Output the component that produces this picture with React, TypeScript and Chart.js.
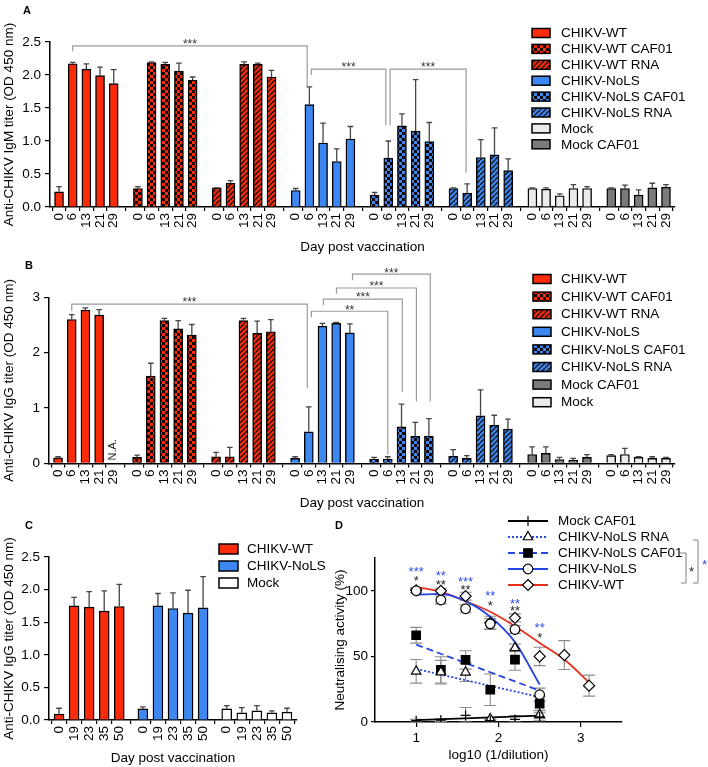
import React, { useEffect, useRef } from "react";
import { Chart, registerables } from "chart.js";

Chart.register(...registerables);

const FONT = "'Liberation Sans', Arial, Helvetica, sans-serif";

// ================= Panel A : anti-CHIKV IgM =================
const A_DAYS = ["0", "6", "13", "21", "29"];
const A_GROUPS = ["CHIKV-WT", "CHIKV-WT CAF01", "CHIKV-WT RNA", "CHIKV-NoLS", "CHIKV-NoLS CAF01", "CHIKV-NoLS RNA", "Mock", "Mock CAF01"];
const A_WT = [0.23, 2.17, 2.09, 1.99, 1.87];
const A_WT_ERR = [0.31, 2.19, 2.17, 2.12, 2.08];
const A_WT_CAF = [0.28, 2.19, 2.16, 2.06, 1.92];
const A_WT_CAF_ERR = [0.31, 2.2, 2.19, 2.18, 1.97];
const A_WT_RNA = [0.29, 0.36, 2.16, 2.16, 1.97];
const A_WT_RNA_ERR = [0.29, 0.4, 2.2, 2.18, 2.07];
const A_NOLS = [0.25, 1.55, 0.97, 0.69, 1.03];
const A_NOLS_ERR = [0.28, 1.82, 1.27, 0.88, 1.22];
const A_NOLS_CAF = [0.18, 0.74, 1.23, 1.15, 0.99];
const A_NOLS_CAF_ERR = [0.22, 1.0, 1.41, 1.93, 1.28];
const A_NOLS_RNA = [0.28, 0.21, 0.75, 0.79, 0.55];
const A_NOLS_RNA_ERR = [0.29, 0.35, 1.02, 1.2, 0.73];
const A_MOCK = [0.28, 0.27, 0.17, 0.28, 0.28];
const A_MOCK_ERR = [0.29, 0.29, 0.2, 0.34, 0.31];
const A_MOCK_CAF = [0.28, 0.28, 0.18, 0.29, 0.3];
const A_MOCK_CAF_ERR = [0.29, 0.33, 0.26, 0.36, 0.34];
const A_Y_TICKS = [0, 0.5, 1.0, 1.5, 2.0, 2.5];

// ================= Panel B : anti-CHIKV IgG =================
const B_DAYS = ["0", "6", "13", "21", "29"];
const B_GROUPS = ["CHIKV-WT", "CHIKV-WT CAF01", "CHIKV-WT RNA", "CHIKV-NoLS", "CHIKV-NoLS CAF01", "CHIKV-NoLS RNA", "Mock CAF01", "Mock"];
const B_WT = [0.1, 2.6, 2.77, 2.68, null];
const B_WT_ERR = [0.12, 2.69, 2.81, 2.78, null];
const B_WT_CAF = [0.11, 1.58, 2.58, 2.43, 2.32];
const B_WT_CAF_ERR = [0.15, 1.81, 2.62, 2.58, 2.51];
const B_WT_RNA = [0.12, 0.12, 2.58, 2.35, 2.38];
const B_WT_RNA_ERR = [0.2, 0.29, 2.62, 2.57, 2.6];
const B_NOLS = [0.09, 0.57, 2.48, 2.53, 2.36];
const B_NOLS_ERR = [0.12, 1.02, 2.53, 2.55, 2.52];
const B_NOLS_CAF = [0.08, 0.08, 0.66, 0.49, 0.49];
const B_NOLS_CAF_ERR = [0.11, 0.12, 1.07, 0.74, 0.81];
const B_NOLS_RNA = [0.13, 0.09, 0.86, 0.69, 0.62];
const B_NOLS_RNA_ERR = [0.25, 0.14, 1.33, 0.87, 0.8];
const B_MOCK_CAF = [0.16, 0.18, 0.07, 0.06, 0.11];
const B_MOCK_CAF_ERR = [0.3, 0.3, 0.11, 0.09, 0.16];
const B_MOCK = [0.14, 0.16, 0.11, 0.09, 0.09];
const B_MOCK_ERR = [0.16, 0.27, 0.12, 0.12, 0.11];
const B_Y_TICKS = [0, 1, 2, 3];

// ================= Panel C : anti-CHIKV IgG (long term) =================
const C_DAYS = ["0", "19", "23", "35", "50"];
const C_GROUPS = ["CHIKV-WT", "CHIKV-NoLS", "Mock"];
const C_WT = [0.09, 1.75, 1.73, 1.67, 1.74];
const C_WT_ERR = [0.18, 1.88, 1.97, 1.98, 2.08];
const C_NOLS = [0.17, 1.75, 1.71, 1.64, 1.72];
const C_NOLS_ERR = [0.2, 1.94, 1.95, 1.99, 2.2];
const C_MOCK = [0.17, 0.11, 0.14, 0.11, 0.12];
const C_MOCK_ERR = [0.22, 0.19, 0.22, 0.14, 0.18];

// ================= Panel D : neutralisation =================
const D_X = [1.0, 1.3, 1.6, 1.9, 2.2, 2.5];
const D_X_WT = [1.0, 1.3, 1.6, 1.9, 2.2, 2.5, 2.8, 3.1];
const D_MOCK_CAF = [1, 1.5, 5, 1, 2, 4];
const D_MOCK_CAF_SEM = [1, 1, 6, 1, 3, 3];
const D_NOLS_RNA = [38.6, 38, 37.9, 2.3, 56.5, 5.6];
const D_NOLS_RNA_SEM = [9, 9, 7, 1, 3, 3];
const D_NOLS_CAF = [66.1, 39.7, 47.3, 24.6, 47.5, 14];
const D_NOLS_CAF_SEM = [6, 10, 7, 12, 8, 5];
const D_NOLS = [100, 93, 86.3, 74.8, 70.5, 20.8];
const D_NOLS_SEM = [1.5, 3, 3, 4, 3, 5];
const D_WT = [100.4, 100, 95.9, 75.6, 79.4, 50, 51, 27.7];
const D_WT_SEM = [2, 2, 3, 5, 3, 7, 11, 8];
const D_X_TICKS = [1, 2, 3];
const D_Y_TICKS = [0, 50, 100];
// fitted curves
const FIT_MOCK_CAF_X = [1.0, 2.5];
const FIT_MOCK_CAF_Y = [1.5, 4.8];
const FIT_NOLS_RNA_X = [1.0, 2.5];
const FIT_NOLS_RNA_Y = [40.4, 19];
const FIT_NOLS_CAF_X = [1.0, 2.5];
const FIT_NOLS_CAF_Y = [59, 23.9];
const FIT_NOLS_X = [1.0, 1.3, 1.6, 1.9, 2.2, 2.5];
const FIT_NOLS_Y = [96.9, 97.7, 92.1, 80.2, 60.9, 28.5];
const FIT_WT_X = [1.0, 1.3, 1.6, 1.9, 2.2, 2.5, 2.8, 3.1];
const FIT_WT_Y = [103, 99.2, 92.1, 84, 73, 60.3, 47.6, 30.2];
// significance marks above each dilution
const D_STAR_X = [1.0, 1.3, 1.6, 1.9, 2.2, 2.5];
const D_STARS_BLUE = ["***", "**", "***", "**", "**", "**"];
const D_STARS_BLUE_Y = [117, 114, 109.4, 98.7, 92.6, 74.3];
const D_STARS_BLACK = ["*", "**", "**", "*", "**", "*"];
const D_STARS_BLACK_Y = [110.2, 107.1, 103.3, 91.1, 87.3, 66.6];

// ================= colours =================
const RED = "#fc2b0b";
const BLUE = "#3d87f2";
const LIGHT = "#ebebeb";
const DARK = "#7a7a7a";
const D_BLUE = "#2646e0";
const D_RED = "#ea2f1c";
const STAR_BLUE = "#3350e6";

const FILLS: Record<string, [string, string]> = {
  "CHIKV-WT": ["solid", RED],
  "CHIKV-WT CAF01": ["check", RED],
  "CHIKV-WT RNA": ["hatch", RED],
  "CHIKV-NoLS": ["solid", BLUE],
  "CHIKV-NoLS CAF01": ["check", BLUE],
  "CHIKV-NoLS RNA": ["hatch", BLUE],
  Mock: ["solid", LIGHT],
  "Mock CAF01": ["solid", DARK],
};
const FILLS_C: Record<string, [string, string]> = {
  "CHIKV-WT": ["solid", RED],
  "CHIKV-NoLS": ["solid", BLUE],
  Mock: ["solid", "#ffffff"],
};

function makeFill(kind: string, color: string): any {
  if (kind === "solid") return color;
  const c = document.createElement("canvas");
  if (kind === "check") {
    c.width = 6;
    c.height = 6;
    const x = c.getContext("2d")!;
    x.fillStyle = color;
    x.fillRect(0, 0, 6, 6);
    x.fillStyle = "#120606";
    x.fillRect(0, 0, 3, 3);
    x.fillRect(3, 3, 3, 3);
    return x.createPattern(c, "repeat");
  }
  const s = 5;
  c.width = s;
  c.height = s;
  const x = c.getContext("2d")!;
  x.fillStyle = color;
  x.fillRect(0, 0, s, s);
  x.strokeStyle = "#111";
  x.lineWidth = 1.3;
  x.beginPath();
  for (const k of [-s, 0, s]) {
    x.moveTo(k, s);
    x.lineTo(k + s, 0);
  }
  x.stroke();
  return x.createPattern(c, "repeat");
}

function drawStars(ctx: CanvasRenderingContext2D, text: string, x: number, cy: number, color: string, size: number) {
  ctx.save();
  ctx.fillStyle = color;
  ctx.font = `${size}px ${FONT}`;
  ctx.textAlign = "center";
  ctx.textBaseline = "alphabetic";
  ctx.fillText(text, x, cy + size * 0.57);
  ctx.restore();
}

const errPlugin = {
  id: "errTop",
  afterDatasetsDraw(chart: any) {
    const ctx = chart.ctx;
    const ys = chart.scales.y;
    ctx.save();
    ctx.strokeStyle = "#454545";
    ctx.lineWidth = 1.3;
    chart.data.datasets.forEach((ds: any, i: number) => {
      if (!ds.errTop) return;
      const meta = chart.getDatasetMeta(i);
      meta.data.forEach((el: any, j: number) => {
        const e = ds.errTop[j];
        const v = ds.data[j] ? ds.data[j].y : null;
        if (e == null || v == null) return;
        const x = el.x;
        const y0 = ys.getPixelForValue(v);
        const y1 = ys.getPixelForValue(e);
        ctx.beginPath();
        ctx.moveTo(x, y0);
        ctx.lineTo(x, y1);
        ctx.moveTo(x - 2.8, y1);
        ctx.lineTo(x + 2.8, y1);
        ctx.stroke();
      });
    });
    ctx.restore();
  },
};

function makeBarLegend(lg: any) {
  return {
    id: "barLegend",
    afterDraw(chart: any) {
      const ctx = chart.ctx;
      ctx.save();
      chart.data.datasets.forEach((ds: any, i: number) => {
        const y = lg.y + i * lg.dy;
        ctx.fillStyle = ds.backgroundColor;
        ctx.fillRect(lg.x, y - lg.h / 2, lg.w, lg.h);
        ctx.strokeStyle = "#000";
        ctx.lineWidth = 1.5;
        ctx.strokeRect(lg.x, y - lg.h / 2, lg.w, lg.h);
        ctx.fillStyle = "#000";
        ctx.font = `13.5px ${FONT}`;
        ctx.textAlign = "left";
        ctx.textBaseline = "middle";
        ctx.fillText(ds.label, lg.tx, y + 0.5);
      });
      ctx.restore();
    },
  };
}

function makeBrackets(items: any[]) {
  return {
    id: "brackets",
    afterDraw(chart: any) {
      const ctx = chart.ctx;
      const xs = chart.scales.x;
      const ys = chart.scales.y;
      ctx.save();
      items.forEach((b) => {
        const x1 = xs.getPixelForValue(b.x1);
        const x2 = xs.getPixelForValue(b.x2);
        const yt = ys.getPixelForValue(b.top);
        const yl = ys.getPixelForValue(b.l);
        const yr = ys.getPixelForValue(b.r);
        ctx.strokeStyle = "#9a9a9a";
        ctx.lineWidth = 1.2;
        ctx.beginPath();
        ctx.moveTo(x1, yl);
        ctx.lineTo(x1, yt);
        ctx.lineTo(x2, yt);
        ctx.lineTo(x2, yr);
        ctx.stroke();
        drawStars(ctx, b.t, (x1 + x2) / 2, yt - 4.5, "#333", 12);
      });
      ctx.restore();
    },
  };
}

function makeNA(xValue: number, text: string) {
  return {
    id: "naLabel",
    afterDraw(chart: any) {
      const ctx = chart.ctx;
      const x = chart.scales.x.getPixelForValue(xValue);
      const y = chart.scales.y.getPixelForValue(0) - 3;
      ctx.save();
      ctx.translate(x, y);
      ctx.rotate(-Math.PI / 2);
      ctx.fillStyle = "#222";
      ctx.font = `11px ${FONT}`;
      ctx.textAlign = "left";
      ctx.textBaseline = "middle";
      ctx.fillText(text, 0, 0);
      ctx.restore();
    },
  };
}

function barConfig(p: any) {
  const tickPos: number[] = [];
  p.groups.forEach((_g: string, gi: number) =>
    p.days.forEach((_d: string, di: number) => tickPos.push(gi * p.gap + di))
  );
  const datasets = p.groups.map((g: string, gi: number) => ({
    type: "bar",
    label: g,
    data: p.values[gi].map((v: number | null, di: number) => ({ x: gi * p.gap + di, y: v })),
    errTop: p.errors[gi],
    backgroundColor: makeFill(p.fills[g][0], p.fills[g][1]),
    borderColor: "#000",
    borderWidth: 1.4,
    borderSkipped: "bottom",
    barThickness: p.barThickness,
    grouped: false,
  }));
  const extra: any[] = [errPlugin, makeBarLegend(p.legend), makeBrackets(p.brackets || [])];
  if (p.na) extra.push(makeNA(p.na.x, p.na.text));
  return {
    type: "bar",
    data: { datasets },
    options: {
      responsive: false,
      animation: false,
      layout: { padding: p.padding },
      plugins: { legend: { display: false }, tooltip: { enabled: false } },
      scales: {
        x: {
          type: "linear",
          min: p.xmin,
          max: p.xmax,
          offset: false,
          afterBuildTicks: (s: any) => {
            s.ticks = tickPos.map((v) => ({ value: v }));
          },
          afterFit: (s: any) => {
            s.height = p.xHeight;
          },
          ticks: {
            autoSkip: false,
            minRotation: 90,
            maxRotation: 90,
            padding: 2,
            color: "#000",
            font: { family: FONT, size: 13.5 },
            callback: (_v: any, i: number) => p.days[i % p.days.length],
          },
          grid: { drawOnChartArea: false, drawTicks: true, tickLength: 4, color: "#000", lineWidth: 1.2 },
          border: { display: true, color: "#000", width: 1.5 },
          title: { display: true, text: "Day post vaccination", color: "#000", font: { family: FONT, size: 13.5 }, padding: 0 },
        },
        y: {
          min: 0,
          max: p.yTicks[p.yTicks.length - 1],
          afterBuildTicks: (s: any) => {
            s.ticks = p.yTicks.map((v: number) => ({ value: v }));
          },
          afterFit: (s: any) => {
            s.width = p.yWidth;
          },
          ticks: {
            padding: 4,
            color: "#000",
            font: { family: FONT, size: 13.5 },
            callback: (v: any) => Number(v).toFixed(p.yDec),
          },
          grid: { drawOnChartArea: false, drawTicks: true, tickLength: 5, color: "#000", lineWidth: 1.2 },
          border: { display: true, color: "#000", width: 1.5 },
          title: { display: true, text: p.yTitle, color: "#000", font: { family: FONT, size: 13.5 }, padding: 0 },
        },
      },
    },
    plugins: extra,
  };
}

const GAP_AB = 5.77;
const GAP_C = 5.57;

function configA() {
  return barConfig({
    groups: A_GROUPS,
    days: A_DAYS,
    values: [A_WT, A_WT_CAF, A_WT_RNA, A_NOLS, A_NOLS_CAF, A_NOLS_RNA, A_MOCK, A_MOCK_CAF],
    errors: [A_WT_ERR, A_WT_CAF_ERR, A_WT_RNA_ERR, A_NOLS_ERR, A_NOLS_CAF_ERR, A_NOLS_RNA_ERR, A_MOCK_ERR, A_MOCK_CAF_ERR],
    fills: FILLS,
    gap: GAP_AB,
    xmin: -0.66,
    xmax: 7 * GAP_AB + 4 + 0.66,
    yTicks: A_Y_TICKS,
    yDec: 1,
    yTitle: "Anti-CHIKV IgM titer (OD 450 nm)",
    padding: { left: 1, right: 33, top: 42, bottom: 3 },
    yWidth: 49,
    xHeight: 48,
    barThickness: 9,
    legend: { x: 532, y: 33, dy: 15.9, w: 18, h: 9, tx: 561 },
    brackets: [
      { x1: 1, x2: 18.15, top: 2.44, l: 2.36, r: 1.8, t: "***" },
      { x1: 18.45, x2: 23.9, top: 2.09, l: 2.0, r: 1.24, t: "***" },
      { x1: 24.21, x2: 29.77, top: 2.09, l: 1.24, r: 0.52, t: "***" },
    ],
  });
}

function configB() {
  return barConfig({
    groups: B_GROUPS,
    days: B_DAYS,
    values: [B_WT, B_WT_CAF, B_WT_RNA, B_NOLS, B_NOLS_CAF, B_NOLS_RNA, B_MOCK_CAF, B_MOCK],
    errors: [B_WT_ERR, B_WT_CAF_ERR, B_WT_RNA_ERR, B_NOLS_ERR, B_NOLS_CAF_ERR, B_NOLS_RNA_ERR, B_MOCK_CAF_ERR, B_MOCK_ERR],
    fills: FILLS,
    gap: GAP_AB,
    xmin: -0.66,
    xmax: 7 * GAP_AB + 4 + 0.66,
    yTicks: B_Y_TICKS,
    yDec: 0,
    yTitle: "Anti-CHIKV IgG titer (OD 450 nm)",
    padding: { left: 1, right: 33, top: 39.4, bottom: 4 },
    yWidth: 48,
    xHeight: 47.6,
    barThickness: 9,
    legend: { x: 533, y: 21, dy: 17.6, w: 18, h: 9, tx: 561 },
    brackets: [
      { x1: 1, x2: 18.2, top: 2.88, l: 2.76, r: 1.36, t: "***" },
      { x1: 18.5, x2: 24.08, top: 2.75, l: 2.64, r: 0.16, t: "**" },
      { x1: 19.38, x2: 25.14, top: 2.97, l: 2.86, r: 1.29, t: "***" },
      { x1: 20.33, x2: 26.17, top: 3.17, l: 3.06, r: 1.12, t: "***" },
      { x1: 21.5, x2: 27.18, top: 3.42, l: 3.31, r: 1.12, t: "***" },
    ],
    na: { x: 4, text: "N.A." },
  });
}

function configC() {
  return barConfig({
    groups: C_GROUPS,
    days: C_DAYS,
    values: [C_WT, C_NOLS, C_MOCK],
    errors: [C_WT_ERR, C_NOLS_ERR, C_MOCK_ERR],
    fills: FILLS_C,
    gap: GAP_C,
    xmin: -0.667,
    xmax: 2 * GAP_C + 4 + 0.667,
    yTicks: A_Y_TICKS,
    yDec: 1,
    yTitle: "Anti-CHIKV IgG titer (OD 450 nm)",
    padding: { left: 1, right: 38, top: 42, bottom: 1 },
    yWidth: 48,
    xHeight: 46,
    barThickness: 10,
    legend: { x: 219, y: 34, dy: 17, w: 19, h: 10, tx: 247 },
    brackets: [],
  });
}

const D_SERIES = [
  { name: "Mock CAF01", x: D_X, y: D_MOCK_CAF, sem: D_MOCK_CAF_SEM, fx: FIT_MOCK_CAF_X, fy: FIT_MOCK_CAF_Y, color: "#000", dash: [], marker: "cross", r: 5, fill: "#000" },
  { name: "CHIKV-NoLS RNA", x: D_X, y: D_NOLS_RNA, sem: D_NOLS_RNA_SEM, fx: FIT_NOLS_RNA_X, fy: FIT_NOLS_RNA_Y, color: D_BLUE, dash: [2, 2], marker: "triangle", r: 5.5, fill: "#fff" },
  { name: "CHIKV-NoLS CAF01", x: D_X, y: D_NOLS_CAF, sem: D_NOLS_CAF_SEM, fx: FIT_NOLS_CAF_X, fy: FIT_NOLS_CAF_Y, color: D_BLUE, dash: [7, 4], marker: "rect", r: 6, fill: "#000" },
  { name: "CHIKV-NoLS", x: D_X, y: D_NOLS, sem: D_NOLS_SEM, fx: FIT_NOLS_X, fy: FIT_NOLS_Y, color: D_BLUE, dash: [], marker: "circle", r: 4.8, fill: "#fff" },
  { name: "CHIKV-WT", x: D_X_WT, y: D_WT, sem: D_WT_SEM, fx: FIT_WT_X, fy: FIT_WT_Y, color: D_RED, dash: [], marker: "rectRot", r: 5.5, fill: "#fff" },
];

function drawMarker(ctx: CanvasRenderingContext2D, kind: string, x: number, y: number, r: number, fill: string) {
  ctx.save();
  ctx.setLineDash([]);
  ctx.lineWidth = 1.2;
  ctx.strokeStyle = "#000";
  ctx.fillStyle = fill;
  ctx.beginPath();
  if (kind === "cross") {
    ctx.moveTo(x - r, y);
    ctx.lineTo(x + r, y);
    ctx.moveTo(x, y - r);
    ctx.lineTo(x, y + r);
    ctx.stroke();
    ctx.restore();
    return;
  }
  if (kind === "circle") ctx.arc(x, y, r, 0, Math.PI * 2);
  else if (kind === "rect") {
    const h = r * Math.SQRT1_2;
    ctx.rect(x - h, y - h, 2 * h, 2 * h);
  } else if (kind === "rectRot") {
    ctx.moveTo(x, y - r);
    ctx.lineTo(x + r, y);
    ctx.lineTo(x, y + r);
    ctx.lineTo(x - r, y);
    ctx.closePath();
  } else if (kind === "triangle") {
    for (let k = 0; k < 3; k++) {
      const a = (k * 2 * Math.PI) / 3;
      const px = x + Math.sin(a) * r;
      const py = y - Math.cos(a) * r;
      if (k === 0) ctx.moveTo(px, py);
      else ctx.lineTo(px, py);
    }
    ctx.closePath();
  }
  ctx.fill();
  ctx.stroke();
  ctx.restore();
}

const dErrPlugin = {
  id: "dErr",
  beforeDatasetsDraw(chart: any) {
    const ctx = chart.ctx;
    const xs = chart.scales.x;
    const ys = chart.scales.y;
    ctx.save();
    ctx.strokeStyle = "#8c8c8c";
    ctx.lineWidth = 1.1;
    chart.data.datasets.forEach((ds: any) => {
      if (!ds.sem) return;
      ds.data.forEach((p: any, i: number) => {
        const e = ds.sem[i];
        if (!e) return;
        const x = xs.getPixelForValue(p.x);
        const y1 = ys.getPixelForValue(p.y + e);
        const y2 = ys.getPixelForValue(Math.max(0, p.y - e));
        ctx.beginPath();
        ctx.moveTo(x, y1);
        ctx.lineTo(x, y2);
        ctx.moveTo(x - 6, y1);
        ctx.lineTo(x + 6, y1);
        ctx.moveTo(x - 6, y2);
        ctx.lineTo(x + 6, y2);
        ctx.stroke();
      });
    });
    ctx.restore();
  },
};

const dStarsPlugin = {
  id: "dStars",
  afterDatasetsDraw(chart: any) {
    const ctx = chart.ctx;
    const xs = chart.scales.x;
    const ys = chart.scales.y;
    D_STAR_X.forEach((x, i) => {
      const px = xs.getPixelForValue(x);
      drawStars(ctx, D_STARS_BLUE[i], px, ys.getPixelForValue(D_STARS_BLUE_Y[i]), STAR_BLUE, 13);
      drawStars(ctx, D_STARS_BLACK[i], px, ys.getPixelForValue(D_STARS_BLACK_Y[i]), "#222", 13);
    });
  },
};

const dLegendPlugin = {
  id: "dLegend",
  afterDraw(chart: any) {
    const ctx = chart.ctx;
    ctx.save();
    D_SERIES.forEach((s, i) => {
      const y = 6 + i * 16;
      ctx.strokeStyle = s.color;
      ctx.lineWidth = 1.8;
      ctx.setLineDash(s.dash);
      ctx.beginPath();
      ctx.moveTo(178, y);
      ctx.lineTo(218, y);
      ctx.stroke();
      ctx.setLineDash([]);
      drawMarker(ctx, s.marker, 198, y, s.r, s.fill);
      ctx.fillStyle = "#000";
      ctx.font = `13.5px ${FONT}`;
      ctx.textAlign = "left";
      ctx.textBaseline = "middle";
      ctx.fillText(s.name, 228, y + 0.5);
    });
    // significance brackets beside the legend
    ctx.strokeStyle = "#808080";
    ctx.lineWidth = 1;
    ctx.beginPath();
    ctx.moveTo(350, 38);
    ctx.lineTo(356, 38);
    ctx.lineTo(356, 68);
    ctx.lineTo(351, 68);
    ctx.moveTo(363, 25);
    ctx.lineTo(368, 25);
    ctx.lineTo(368, 68);
    ctx.lineTo(363, 68);
    ctx.stroke();
    ctx.restore();
    drawStars(ctx, "*", 361.5, 54, "#222", 13);
    drawStars(ctx, "*", 374.5, 47, STAR_BLUE, 13);
  },
};

function configD() {
  const lineDs = D_SERIES.map((s) => ({
    type: "line",
    label: s.name + " fit",
    data: s.fx.map((x, i) => ({ x, y: s.fy[i] })),
    borderColor: s.color,
    borderWidth: 1.8,
    borderDash: s.dash,
    pointRadius: 0,
    fill: false,
    cubicInterpolationMode: s.fx.length > 2 ? "monotone" : "default",
    order: 2,
  }));
  const ptDs = D_SERIES.map((s) => ({
    type: "scatter",
    label: s.name,
    data: s.x.map((x, i) => ({ x, y: s.y[i] })),
    sem: s.sem,
    pointStyle: s.marker,
    pointRadius: s.r,
    pointBackgroundColor: s.fill,
    pointBorderColor: "#000",
    pointBorderWidth: 1.2,
    showLine: false,
    order: 1,
  }));
  return {
    type: "scatter",
    data: { datasets: [...lineDs, ...ptDs] },
    options: {
      responsive: false,
      animation: false,
      layout: { padding: { left: 2, right: 86, top: 43, bottom: 4 } },
      plugins: { legend: { display: false }, tooltip: { enabled: false } },
      scales: {
        x: {
          type: "linear",
          min: 0.5,
          max: 3.5,
          afterBuildTicks: (s: any) => {
            s.ticks = D_X_TICKS.map((v) => ({ value: v }));
          },
          afterFit: (s: any) => {
            s.height = 41;
          },
          ticks: { padding: 3, color: "#000", font: { family: FONT, size: 13.5 } },
          grid: { drawOnChartArea: false, drawTicks: true, tickLength: 5, color: "#000", lineWidth: 1.2 },
          border: { display: true, color: "#000", width: 1.5 },
          title: { display: true, text: "log10 (1/dilution)", color: "#000", font: { family: FONT, size: 13.5 }, padding: 0 },
        },
        y: {
          min: 0,
          max: 125,
          afterBuildTicks: (s: any) => {
            s.ticks = D_Y_TICKS.map((v) => ({ value: v }));
          },
          afterFit: (s: any) => {
            s.width = 43;
          },
          ticks: { padding: 3, color: "#000", font: { family: FONT, size: 13.5 } },
          grid: { drawOnChartArea: false, drawTicks: true, tickLength: 4, color: "#000", lineWidth: 1.2 },
          border: { display: true, color: "#000", width: 1.5 },
          title: { display: true, text: "Neutralising activity (%)", color: "#000", font: { family: FONT, size: 13.5 }, padding: 0 },
        },
      },
    },
    plugins: [dErrPlugin, dStarsPlugin, dLegendPlugin],
  };
}

function ChartBox({ left, top, width, height, make }: any) {
  const ref = useRef<HTMLCanvasElement>(null);
  useEffect(() => {
    const chart = new Chart(ref.current as HTMLCanvasElement, make());
    return () => chart.destroy();
  }, []);
  return (
    <div style={{ position: "absolute", left, top, width, height }}>
      <canvas ref={ref} width={width} height={height} style={{ width, height, display: "block" }} />
    </div>
  );
}

const letterStyle: any = {
  position: "absolute",
  fontFamily: FONT,
  fontWeight: "bold",
  fontSize: 11,
  lineHeight: "11px",
  color: "#000",
};

export default function App() {
  return (
    <div style={{ position: "absolute", left: 0, top: 0, width: 708, height: 767, background: "#fff", overflow: "hidden" }}>
      <ChartBox left={0} top={0} width={708} height={258} make={configA} />
      <ChartBox left={0} top={258} width={708} height={257} make={configB} />
      <ChartBox left={0} top={515} width={335} height={252} make={configC} />
      <ChartBox left={330} top={515} width={378} height={252} make={configD} />
      <div style={{ ...letterStyle, left: 23, top: 5 }}>A</div>
      <div style={{ ...letterStyle, left: 25, top: 260 }}>B</div>
      <div style={{ ...letterStyle, left: 25, top: 520 }}>C</div>
      <div style={{ ...letterStyle, left: 335, top: 520 }}>D</div>
    </div>
  );
}
